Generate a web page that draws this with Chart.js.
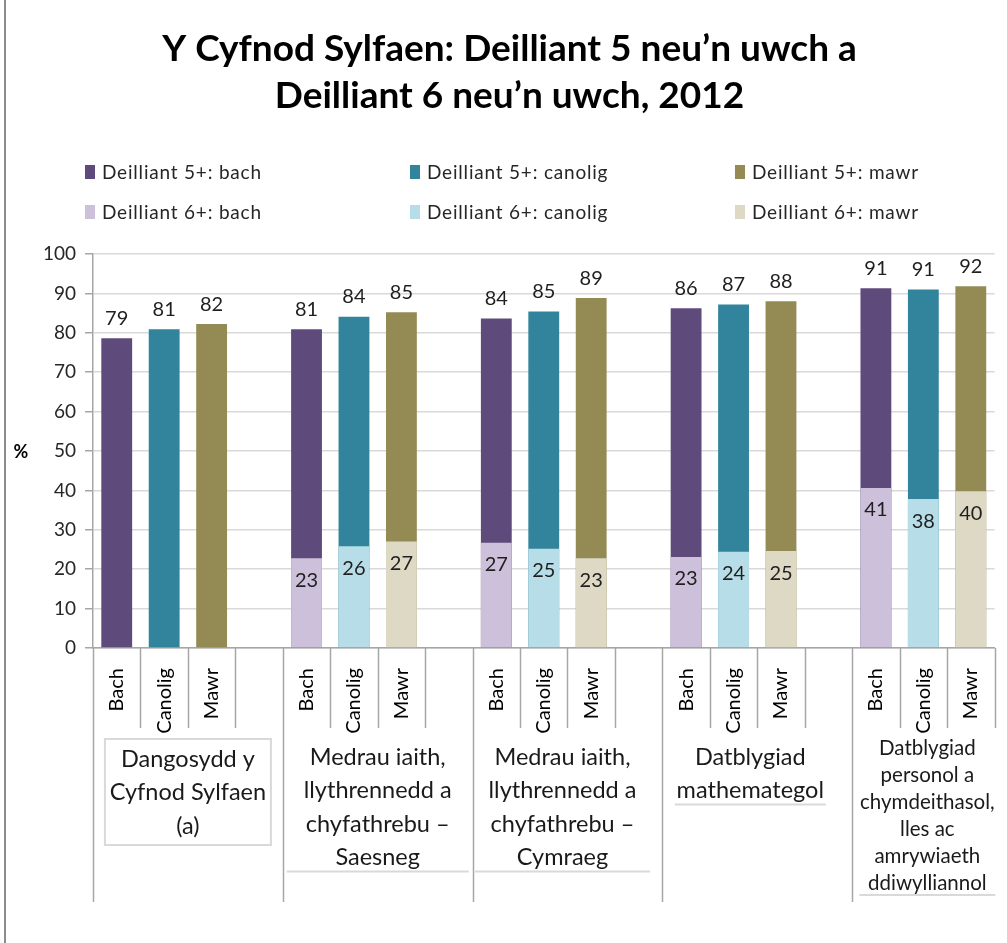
<!DOCTYPE html>
<html>
<head>
<meta charset="utf-8">
<script src="https://cdn.jsdelivr.net/npm/chart.js@4"></script>
<style>
  html, body { margin: 0; padding: 0; background: #fff; }
  #wrap { position: relative; width: 1007px; height: 943px; }
</style>
</head>
<body>
<div id="wrap"><canvas id="myChart"></canvas></div>
<script>
// bars along the x axis, '' is the empty slot between two groups
const categories = [
  'Bach', 'Canolig', 'Mawr', '',
  'Bach', 'Canolig', 'Mawr', '',
  'Bach', 'Canolig', 'Mawr', '',
  'Bach', 'Canolig', 'Mawr', '',
  'Bach', 'Canolig', 'Mawr'
];

// text under each group of three bars
const groupLabels = [
  ['Dangosydd y', 'Cyfnod Sylfaen', '(a)'],
  ['Medrau iaith,', 'llythrennedd a', 'chyfathrebu –', 'Saesneg'],
  ['Medrau iaith,', 'llythrennedd a', 'chyfathrebu –', 'Cymraeg'],
  ['Datblygiad', 'mathemategol'],
  ['Datblygiad', 'personol a', 'chymdeithasol,', 'lles ac', 'amrywiaeth', 'ddiwylliannol']
];

// Deilliant 5+ (%), one value per group
const d5Bach    = [78.6, 80.9, 83.6, 86.2, 91.3];
const d5Canolig = [80.9, 84.1, 85.4, 87.2, 91.0];
const d5Mawr    = [82.2, 85.2, 88.8, 88.0, 91.8];

// Deilliant 6+ (%), nothing for the first group
const d6Bach    = [null, 22.8, 26.7, 23.1, 40.6];
const d6Canolig = [null, 25.8, 25.2, 24.4, 37.8];
const d6Mawr    = [null, 27.0, 22.8, 24.6, 39.8];

const FONT = 'Lato, "Open Sans", sans-serif';

// put one value per group into its slot on the category axis
const toSlots = (vals, k) => {
  const out = new Array(categories.length).fill(null);
  vals.forEach((v, g) => { out[g * 4 + k] = v; });
  return out;
};

const mk = (label, vals, k, color, inside) => ({
  label: label,
  data: toSlots(vals, k),
  backgroundColor: color,
  borderWidth: 0,
  grouped: false,
  barPercentage: 0.65,
  categoryPercentage: 1,
  order: inside ? 0 : 1,   // 6+ drawn over 5+
  inside: inside
});

const datasets = [
  mk('Deilliant 5+: bach', d5Bach, 0, '#5f4b7b', false),
  mk('Deilliant 5+: canolig', d5Canolig, 1, '#31849b', false),
  mk('Deilliant 5+: mawr', d5Mawr, 2, '#948a54', false),
  mk('Deilliant 6+: bach', d6Bach, 0, '#ccc0da', true),
  mk('Deilliant 6+: canolig', d6Canolig, 1, '#b7dee8', true),
  mk('Deilliant 6+: mawr', d6Mawr, 2, '#ddd9c4', true)
];

// labels, legend, separators and group texts
const extras = {
  id: 'extras',
  afterDraw(chart) {
    const ctx = chart.ctx;
    const a = chart.chartArea;
    const xs = chart.scales.x;
    const n = categories.length;
    ctx.save();

    // outer frame on the left
    ctx.strokeStyle = '#8c8c8c';
    ctx.lineWidth = 2;
    ctx.beginPath(); ctx.moveTo(5, 0); ctx.lineTo(5, 943); ctx.stroke();

    // value labels
    ctx.font = '20px ' + FONT;
    ctx.fillStyle = '#1f1f1f';
    ctx.textAlign = 'center';
    ctx.textBaseline = 'middle';
    chart.data.datasets.forEach((ds, i) => {
      chart.getDatasetMeta(i).data.forEach((bar, j) => {
        const v = ds.data[j];
        if (v == null) return;
        ctx.fillText(Math.round(v), bar.x, ds.inside ? bar.y + 22 : bar.y - 20);
      });
    });

    // % on the y axis
    ctx.font = 'bold 18px ' + FONT;
    ctx.fillStyle = '#000';
    ctx.fillText('%', 21, 452);

    // legend in three columns
    ctx.font = '19px ' + FONT;
    ctx.letterSpacing = '0.8px';
    ctx.textAlign = 'left';
    const cols = [85, 410, 735], rows = [172, 212];
    chart.data.datasets.forEach((ds, i) => {
      const lx = cols[i % 3], ly = rows[Math.floor(i / 3)];
      ctx.fillStyle = ds.backgroundColor;
      ctx.fillRect(lx, ly - 7, 10, 14);
      ctx.fillStyle = '#262626';
      ctx.fillText(ds.label, lx + 17, ly + 1);
    });
    ctx.letterSpacing = '0px';

    // separators below the axis
    const edge = i => i === 0 ? a.left : i === n ? a.right
      : (xs.getPixelForValue(i - 1) + xs.getPixelForValue(i)) / 2;
    ctx.strokeStyle = '#a6a6a6';
    ctx.lineWidth = 1.5;
    for (let i = 0; i <= n; i++) {
      const long = i % 4 === 0 && i < n;
      const px = Math.round(edge(i)) + 0.5;
      ctx.beginPath();
      ctx.moveTo(px, a.bottom);
      ctx.lineTo(px, long ? 902 : 728);
      ctx.stroke();
    }

    // group texts
    ctx.textAlign = 'center';
    const lineW = [0, 182, 175, 151, 136];
    const shift = [0, 0, -5, -7, 4];
    groupLabels.forEach((lines, g) => {
      const cx = (edge(g * 4) + edge(Math.min(g * 4 + 4, n))) / 2 + shift[g];
      const small = lines.length > 4;
      const lh = small ? 27 : 33.5;
      const y0 = small ? 748 : (g === 0 ? 759 : 757);
      ctx.fillStyle = '#1a1a1a';
      ctx.font = (small ? '20.5px ' : '23.5px ') + FONT;
      lines.forEach((t, k) => ctx.fillText(t, cx, y0 + k * lh));
      // text box edges
      ctx.strokeStyle = '#d9d9d9';
      ctx.lineWidth = 2;
      const yb = y0 + (lines.length - 1) * lh + (small ? 12 : 14);
      if (g === 0) {
        ctx.strokeRect(cx - 83, 739, 166, 106);
      } else {
        ctx.beginPath(); ctx.moveTo(cx - lineW[g] / 2, yb); ctx.lineTo(cx + lineW[g] / 2, yb); ctx.stroke();
      }
    });

    ctx.restore();
  }
};

new Chart(document.getElementById('myChart'), {
  type: 'bar',
  data: { labels: categories, datasets: datasets },
  options: {
    responsive: true,
    maintainAspectRatio: false,
    animation: false,
    layout: { padding: { left: 20, right: 8, top: 0, bottom: 0 } },
    plugins: {
      legend: { display: false },
      tooltip: { enabled: false },
      title: {
        display: true,
        text: ['Y Cyfnod Sylfaen: Deilliant 5 neu’n uwch a', 'Deilliant 6 neu’n uwch, 2012'],
        color: '#000',
        font: { family: FONT, size: 37, weight: 'bold', lineHeight: 1.27 },
        padding: { top: 26, bottom: 134 }
      }
    },
    scales: {
      x: {
        grid: { display: false },
        border: { display: true, color: '#a6a6a6', width: 1.5 },
        ticks: {
          color: '#000',
          font: { family: FONT, size: 20 },
          minRotation: 90,
          maxRotation: 90,
          autoSkip: false,
          padding: 12
        },
        afterFit: s => { s.height = 295; }
      },
      y: {
        min: 0,
        max: 100,
        ticks: { stepSize: 10, color: '#262626', font: { family: FONT, size: 19 }, padding: 9 },
        grid: { color: '#d9d9d9', lineWidth: 1.5, tickLength: 8, tickColor: '#a6a6a6' },
        border: { color: '#a6a6a6', width: 1.5 },
        afterFit: s => { s.width = 73; }
      }
    }
  },
  plugins: [extras]
});
</script>
</body>
</html>
